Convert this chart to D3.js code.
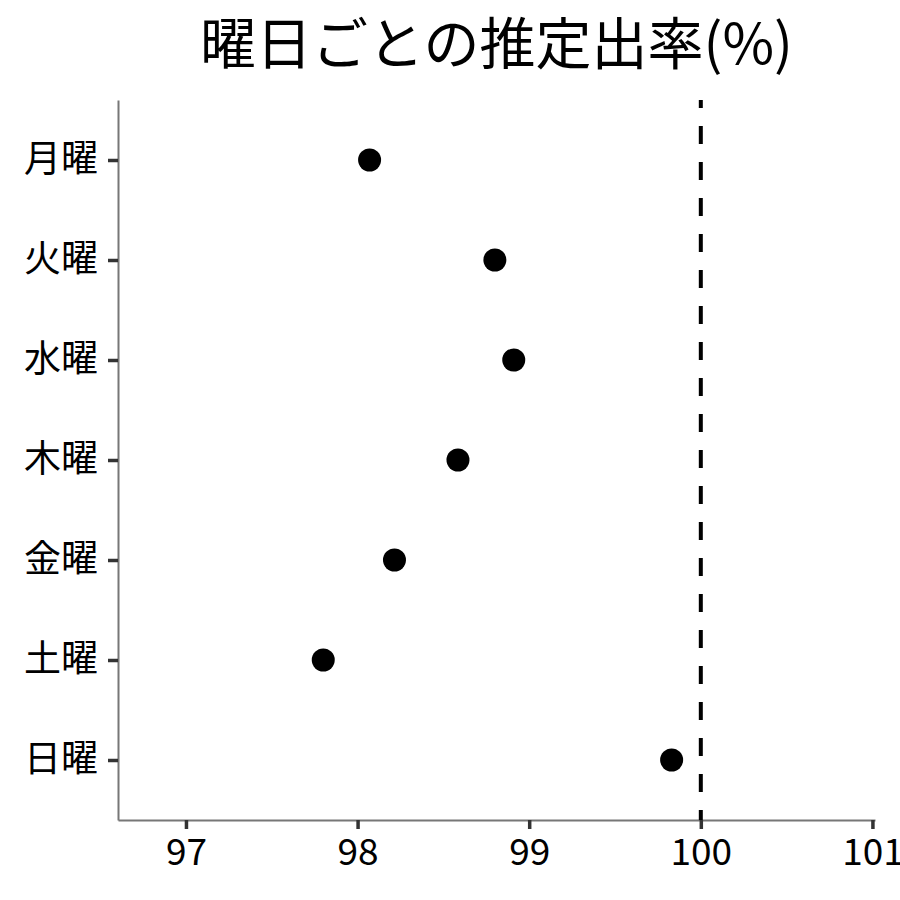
<!DOCTYPE html>
<html>
<head>
<meta charset="utf-8">
<script src="https://cdn.jsdelivr.net/npm/d3@7"></script>
<style>
  html, body { margin: 0; padding: 0; background: #fff; }
  svg { display: block; font-family: "Noto Sans CJK JP", "Noto Sans", sans-serif; }
</style>
</head>
<body>
<svg id="chart" width="900" height="900"></svg>
<script>
const title = "曜日ごとの推定出率(%)";
const days = ["月曜", "火曜", "水曜", "木曜", "金曜", "土曜", "日曜"];
const rates = [98.07, 98.80, 98.91, 98.585, 98.215, 97.80, 99.83];
const xTicks = [97, 98, 99, 100, 101];
const refValue = 100;
const xDomain = [96.604, 101.015];

const svg = d3.select("#chart");
const margin = { left: 118, right: 25, top: 100, bottom: 80 };
const W = 900, H = 900;

const x = d3.scaleLinear().domain(xDomain).range([margin.left, W - margin.right]);
const y = d3.scalePoint().domain(days).range([margin.top, H - margin.bottom]).padding(0.6);

// title
svg.append("text")
  .attr("x", (margin.left + W - margin.right) / 2)
  .attr("y", 64)
  .attr("text-anchor", "middle")
  .attr("font-size", 56)
  .attr("fill", "#000")
  .text(title);

// x axis
const xAxis = svg.append("g")
  .attr("transform", `translate(0,${H - margin.bottom})`)
  .call(d3.axisBottom(x).tickValues(xTicks).tickFormat(d3.format("d"))
    .tickSize(9).tickSizeOuter(0).tickPadding(10));
xAxis.select(".domain").attr("stroke", "#777").attr("stroke-width", 2);
xAxis.selectAll(".tick line").attr("stroke", "#333").attr("stroke-width", 3.5);
xAxis.selectAll(".tick text").attr("font-size", 37).attr("fill", "#000")
  .attr("font-family", "'Noto Sans CJK JP', sans-serif");

// y axis
const yAxis = svg.append("g")
  .attr("transform", `translate(${margin.left},0)`)
  .call(d3.axisLeft(y).tickSize(10).tickSizeOuter(0).tickPadding(10));
yAxis.select(".domain").attr("stroke", "#777").attr("stroke-width", 2);
yAxis.selectAll(".tick line").attr("stroke", "#333").attr("stroke-width", 3.5);
yAxis.selectAll(".tick text").attr("font-size", 37).attr("fill", "#000")
  .attr("font-family", "'Noto Sans CJK JP', sans-serif");

// reference line
svg.append("line")
  .attr("x1", x(refValue)).attr("x2", x(refValue))
  .attr("y1", margin.top).attr("y2", H - margin.bottom)
  .attr("stroke", "#000")
  .attr("stroke-width", 4)
  .attr("stroke-dasharray", "18,18")
  .attr("stroke-dashoffset", 10);

// points
svg.append("g").selectAll("circle")
  .data(days.map((d, i) => ({ day: d, v: rates[i] })))
  .join("circle")
  .attr("cx", d => x(d.v))
  .attr("cy", d => y(d.day))
  .attr("r", 11.5)
  .attr("fill", "#000");
</script>
</body>
</html>
